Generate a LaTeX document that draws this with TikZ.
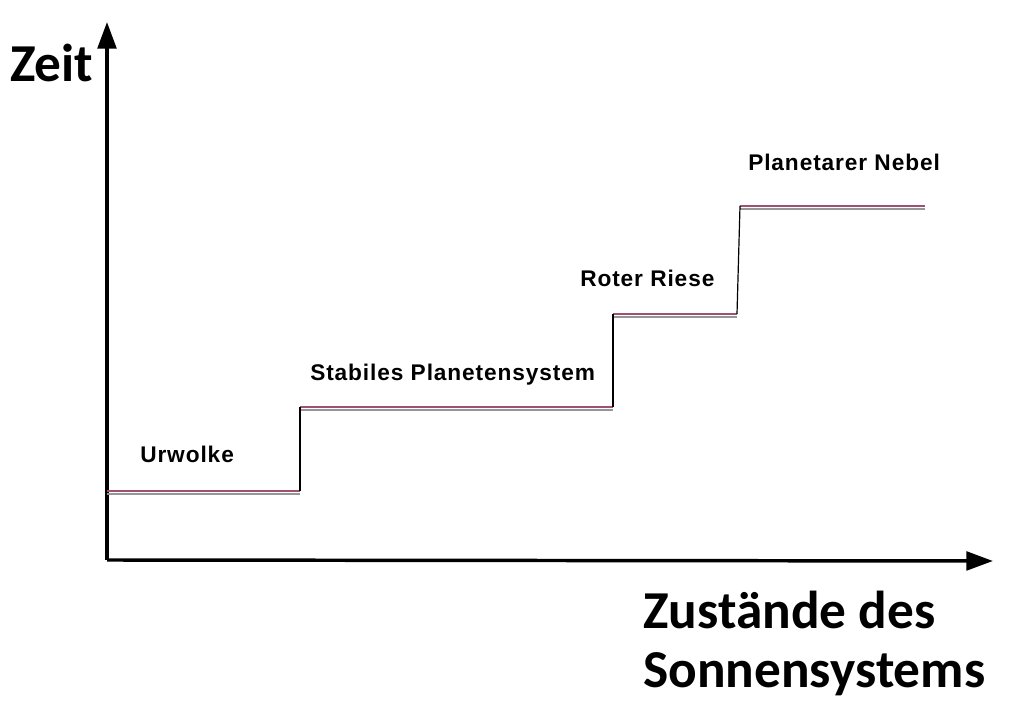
\documentclass[tikz,border=0pt]{standalone}
\usepackage{fontspec}
\setmainfont{Liberation Sans}[LetterSpace=4]
\newfontfamily\calibri{Carlito}
\usetikzlibrary{arrows.meta}
\definecolor{stepred}{RGB}{160,80,112}
\definecolor{stepgray}{RGB}{150,150,150}
\tikzset{
  axis/.style={line width=2.6pt, -{Triangle[length=20pt,width=14pt]}},
  level/.style={line width=1.5pt, stepred},
  levelshade/.style={line width=1.5pt, stepgray},
  riser/.style={line width=0.9pt, black},
  state/.style={font=\fontsize{17}{20}\selectfont\bfseries, anchor=base west, inner sep=0pt},
  title/.style={font=\calibri\fontsize{40}{44}\selectfont\bfseries, anchor=base west, inner sep=0pt, align=left},
}
\begin{document}
\begin{tikzpicture}[x=0.75pt, y=0.75pt]
  \useasboundingbox (0, 0) rectangle (1017, 703);
  % axes
  \coordinate (o) at (107, 143);
  \coordinate (ytip) at (107, 681);
  \coordinate (xtip) at (993, 142);
  \draw[axis] (o) -- (ytip);
  \draw[axis] (o) -- (xtip);
  % corners of the steps
  \coordinate (a1) at (107, 212);
  \coordinate (a2) at (300, 212);
  \coordinate (b1) at (300, 296);
  \coordinate (b2) at (613, 296);
  \coordinate (c1) at (613, 389);
  \coordinate (c2) at (737, 389);
  \coordinate (d1) at (740, 497);
  \coordinate (d2) at (925, 497);
  % levels
  \foreach \p/\q in {a1/a2, b1/b2, c1/c2, d1/d2} {
    \draw[levelshade] ([yshift=-2.2pt]\p) -- ([yshift=-2.2pt]\q);
    \draw[level] (\p) -- (\q);
  }
  % risers
  \draw[riser] (a2) -- (b1);
  \draw[riser] (b2) -- (c1);
  \draw[riser] (c2) -- (d1);
  % labels
  \node[state] (urwolke) at (140, 240) {Urwolke};
  \node[state] (stabil) at (310, 322) {Stabiles Planetensystem};
  \node[state] (riese) at (580, 416) {Roter Riese};
  \node[state] (nebel) at (748, 532) {Planetarer Nebel};
  \node[title] (zeit) at (10, 621) {Zeit};
  \node[title] (zustaende) at (643, 16) {Zustände des\\Sonnensystems};
\end{tikzpicture}
\end{document}
